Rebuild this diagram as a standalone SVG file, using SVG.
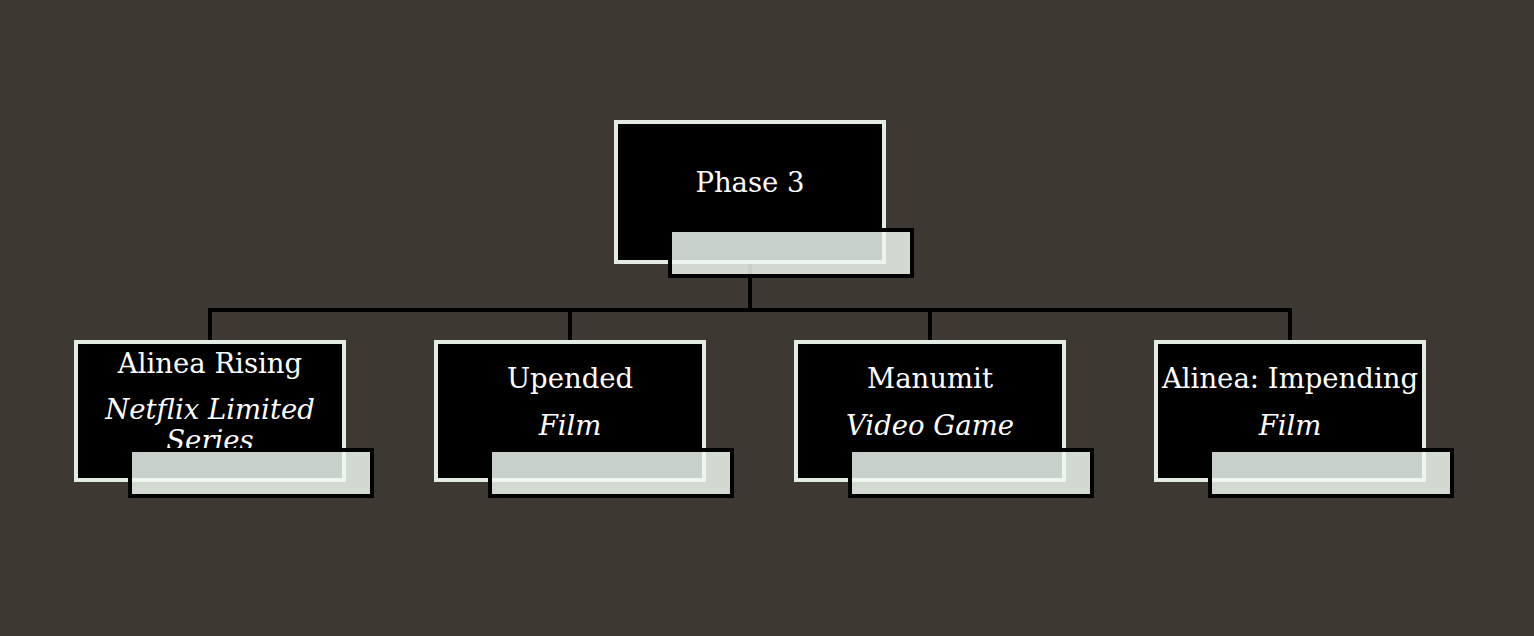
<svg xmlns="http://www.w3.org/2000/svg" width="1534" height="636" viewBox="0 0 1534 636">
<style>
.node{fill:#000000;stroke:#e3ece3;stroke-width:4}
.lbl{fill:#edf8ef;fill-opacity:0.84;stroke:#000000;stroke-width:4}
.t{font-family:"DejaVu Serif","Liberation Serif",serif;font-size:27.5px;fill:#ffffff;text-anchor:middle}
.s{font-style:italic}
.conn{fill:none;stroke:#000000;stroke-width:4}
</style>
<rect x="0" y="0" width="1534" height="636" fill="#3d3832"/>
<g id="connectors">
<path class="conn" d="M750 262 V310"/>
<path class="conn" d="M210 342 V310 H1290 V342"/>
<path class="conn" d="M570 310 V342"/>
<path class="conn" d="M930 310 V342"/>
</g>
<g id="node-phase3">
<rect class="node" x="616" y="122" width="268" height="140"/>
<text class="t" x="750" y="192">Phase 3</text>
<rect class="lbl" x="670" y="230" width="242" height="46"/>
</g>
<g id="node-alinea-rising">
<rect class="node" x="76" y="342" width="268" height="138"/>
<text class="t" x="210" y="373">Alinea Rising</text>
<text class="t s" x="210" y="419">Netflix Limited</text>
<text class="t s" x="210" y="450">Series</text>
<rect class="lbl" x="130" y="450" width="242" height="46"/>
</g>
<g id="node-upended">
<rect class="node" x="436" y="342" width="268" height="138"/>
<text class="t" x="570" y="388">Upended</text>
<text class="t s" x="570" y="435">Film</text>
<rect class="lbl" x="490" y="450" width="242" height="46"/>
</g>
<g id="node-manumit">
<rect class="node" x="796" y="342" width="268" height="138"/>
<text class="t" x="930" y="388">Manumit</text>
<text class="t s" x="930" y="435">Video Game</text>
<rect class="lbl" x="850" y="450" width="242" height="46"/>
</g>
<g id="node-alinea-impending">
<rect class="node" x="1156" y="342" width="268" height="138"/>
<text class="t" x="1290" y="388">Alinea: Impending</text>
<text class="t s" x="1290" y="435">Film</text>
<rect class="lbl" x="1210" y="450" width="242" height="46"/>
</g>
</svg>
